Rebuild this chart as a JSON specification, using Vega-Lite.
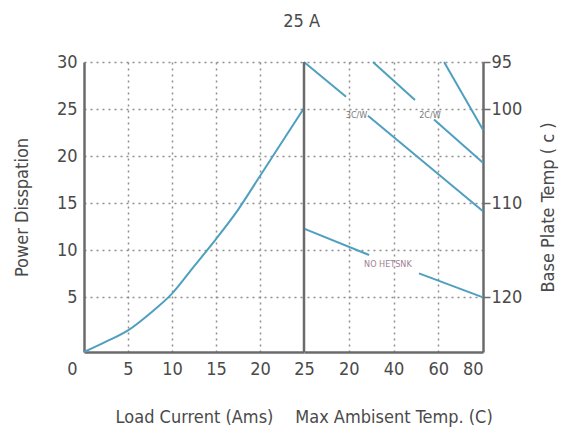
{
  "$schema": "https://vega.github.io/schema/vega-lite/v6.json",
  "background": "white",
  "padding": {"left": 13, "top": 13, "right": 5, "bottom": 5},
  "bounds": "flush",
  "spacing": 0,
  "title": {"text": "25 A", "fontSize": 18, "font": "DejaVu Sans Condensed, Liberation Sans, sans-serif", "fontWeight": "normal", "color": "#4a4a4a", "anchor": "middle", "dx": 16, "offset": 22},
  "config": {
    "view": {"stroke": null},
    "font": "DejaVu Sans Condensed, Liberation Sans, sans-serif",
    "axis": {
      "labelFont": "DejaVu Sans Condensed, Liberation Sans, sans-serif", "labelFontSize": 18, "labelColor": "#4a4a4a",
      "titleFont": "DejaVu Sans Condensed, Liberation Sans, sans-serif", "titleFontSize": 18, "titleFontWeight": "normal", "titleColor": "#4a4a4a",
      "domainColor": "#6b6b6b", "domainWidth": 2.5,
      "gridColor": "#8f8f8f", "gridDash": [2, 4], "gridWidth": 1.5,
      "ticks": false
    }
  },
  "resolve": {"scale": {"x": "independent", "y": "independent"}},
  "hconcat": [
    {
      "width": 220,
      "height": 290,
      "data": {"values": [
        {"current": 0, "power": -0.8},
        {"current": 2.5, "power": 0.3},
        {"current": 5, "power": 1.5},
        {"current": 7.5, "power": 3.3},
        {"current": 10, "power": 5.4},
        {"current": 12.5, "power": 8.3},
        {"current": 15, "power": 11.2},
        {"current": 17.5, "power": 14.3},
        {"current": 20, "power": 17.9},
        {"current": 22.5, "power": 21.5},
        {"current": 25, "power": 25.1}
      ]},
      "mark": {"type": "line", "color": "#4f9fbf", "strokeWidth": 2, "interpolate": "monotone"},
      "encoding": {
        "x": {
          "field": "current", "type": "quantitative",
          "scale": {"domain": [0, 25], "nice": false},
          "axis": {
            "values": [0, 5, 10, 15, 20, 25],
            "title": "Load Current (Ams)",
            "grid": true,
            "gridOpacity": {"condition": {"test": "datum.value == 0 || datum.value == 25", "value": 0}, "value": 1},
            "labelAlign": {"condition": {"test": "datum.value == 0", "value": "right"}, "value": "center"},
            "labelOffset": {"condition": {"test": "datum.value == 0", "value": -7}, "value": 0},
            "labelPadding": 8,
            "titlePadding": 30
          }
        },
        "y": {
          "field": "power", "type": "quantitative",
          "scale": {"domain": [-0.8, 30], "nice": false, "zero": false},
          "axis": {
            "values": [5, 10, 15, 20, 25, 30],
            "title": "Power Disspation",
            "grid": true,
            "labelPadding": 7,
            "titlePadding": 25
          }
        }
      }
    },
    {
      "width": 179,
      "height": 290,
      "layer": [
        {
          "data": {"values": [
            {"temp": 0, "power": 30, "seg": "a1"},
            {"temp": 18.8, "power": 26.3, "seg": "a1"},
            {"temp": 28.6, "power": 24.3, "seg": "a2"},
            {"temp": 80, "power": 14.15, "seg": "a2"},
            {"temp": 30.8, "power": 30, "seg": "b1"},
            {"temp": 49.6, "power": 25.96, "seg": "b1"},
            {"temp": 58.1, "power": 23.9, "seg": "b2"},
            {"temp": 80, "power": 19.3, "seg": "b2"},
            {"temp": 62.6, "power": 30, "seg": "c"},
            {"temp": 80, "power": 22.8, "seg": "c"},
            {"temp": 0, "power": 12.3, "seg": "d1"},
            {"temp": 29.1, "power": 9.5, "seg": "d1"},
            {"temp": 51.4, "power": 7.55, "seg": "d2"},
            {"temp": 80, "power": 5, "seg": "d2"}
          ]},
          "mark": {"type": "line", "color": "#4f9fbf", "strokeWidth": 2},
          "encoding": {
            "x": {
              "field": "temp", "type": "quantitative",
              "scale": {"domain": [0, 80], "nice": false},
              "axis": {
                "values": [20, 40, 60, 80],
                "title": "Max Ambisent Temp. (C)",
                "grid": true,
                "gridOpacity": {"condition": {"test": "datum.value == 80", "value": 0}, "value": 1},
                "labelPadding": 8,
                "titlePadding": 30
              }
            },
            "y": {
              "field": "power", "type": "quantitative",
              "scale": {"domain": [-0.8, 30], "nice": false, "zero": false},
              "axis": {
                "orient": "right",
                "values": [5, 10, 15, 20, 25, 30],
                "labelExpr": "(datum.value == 10 || datum.value == 20) ? '' : '' + (125 - datum.value)",
                "ticks": true,
                "tickSize": 7,
                "tickWidth": 1.5,
                "tickColor": "#6b6b6b",
                "tickOpacity": {"condition": {"test": "datum.value == 10 || datum.value == 20", "value": 0}, "value": 1},
                "labelPadding": 1,
                "title": "Base Plate Temp ( c )",
                "titleAngle": 270,
                "titlePadding": 36,
                "grid": true
              }
            },
            "detail": {"field": "seg", "type": "nominal"}
          }
        },
        {
          "data": {"values": [
            {"temp": 23.5, "power": 24.4, "label": "3C/W", "kind": "hs"},
            {"temp": 56.3, "power": 24.4, "label": "2C/W", "kind": "hs"},
            {"temp": 37.5, "power": 8.5, "label": "NO HETSNK", "kind": "none"}
          ]},
          "mark": {"type": "text", "fontSize": 9},
          "encoding": {
            "x": {"field": "temp", "type": "quantitative"},
            "y": {"field": "power", "type": "quantitative"},
            "text": {"field": "label"},
            "color": {"field": "kind", "type": "nominal", "scale": {"domain": ["hs", "none"], "range": ["#7a7a7a", "#a07f92"]}, "legend": null}
          }
        },
        {
          "data": {"values": [{"edge": 0}]},
          "mark": {"type": "rule", "color": "#6b6b6b", "strokeWidth": 2.5},
          "encoding": {"x": {"field": "edge", "type": "quantitative"}}
        }
      ]
    }
  ]
}
